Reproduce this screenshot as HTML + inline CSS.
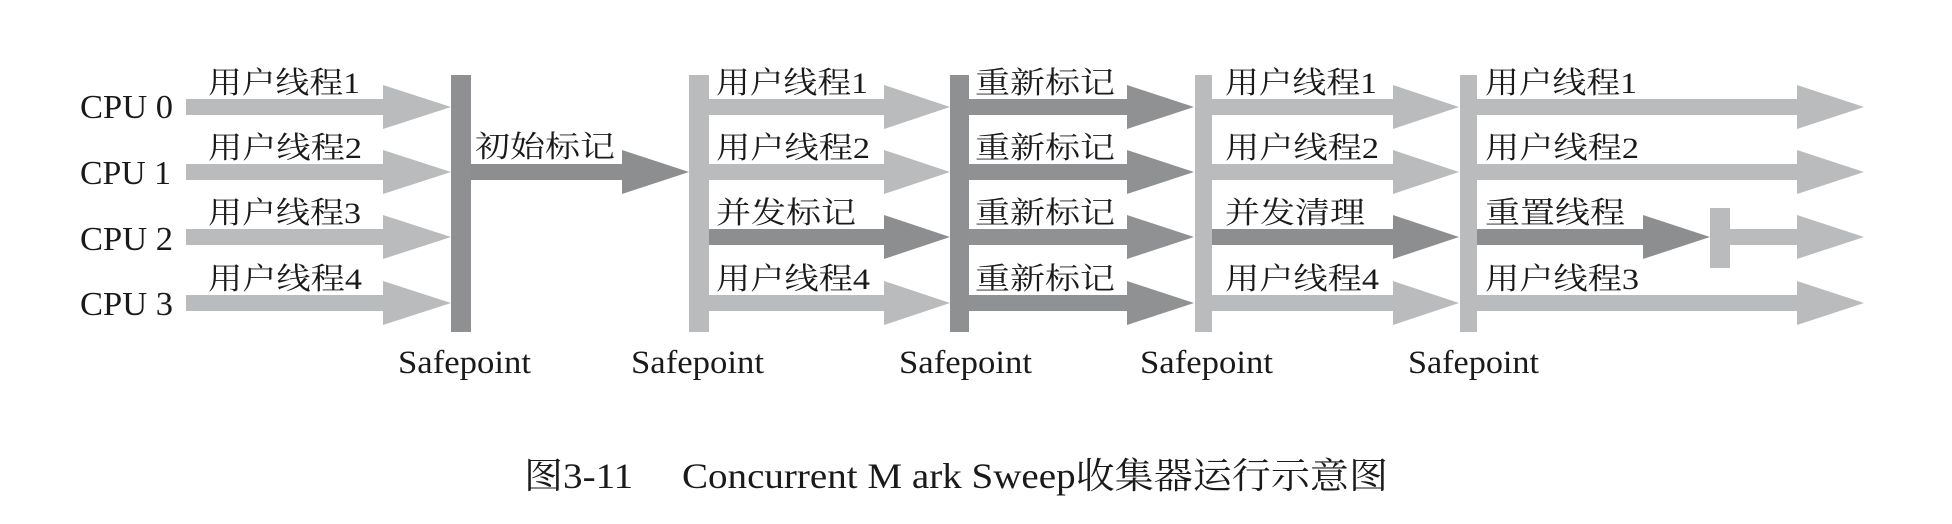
<!DOCTYPE html>
<html><head><meta charset="utf-8"><style>
html,body{margin:0;padding:0;background:#fff;}
svg{display:block;}
.t{font-family:"Liberation Serif","Noto Serif CJK SC",serif;fill:#1a1a1a;}
</style></head><body>
<svg width="1952" height="524" viewBox="0 0 1952 524" xmlns="http://www.w3.org/2000/svg">
<defs></defs>
<g id="arrows"></g>
<!-- Section 1 light arrows -->
<g fill="#b9bbbc">
<polygon points="186,99 383,99 383,85 451,107 383,129 383,115 186,115"/>
<polygon points="186,164 383,164 383,150 451,172 383,194 383,180 186,180"/>
<polygon points="186,229 383,229 383,215 451,237 383,259 383,245 186,245"/>
<polygon points="186,295 383,295 383,281 451,303 383,325 383,311 186,311"/>
</g>
<!-- 初始标记 dark -->
<polygon fill="#8c8e8f" points="471,164 622,164 622,150 689,172 622,194 622,180 471,180"/>
<!-- Section 2 -->
<g fill="#b9bbbc">
<polygon points="709,99 884,99 884,85 950,107 884,129 884,115 709,115"/>
<polygon points="709,164 884,164 884,150 950,172 884,194 884,180 709,180"/>
<polygon points="709,295 884,295 884,281 950,303 884,325 884,311 709,311"/>
</g>
<polygon fill="#8c8e8f" points="709,229 884,229 884,215 950,237 884,259 884,245 709,245"/>
<!-- Section 3 dark -->
<g fill="#8f9192">
<polygon points="969,99 1127,99 1127,85 1194,107 1127,129 1127,115 969,115"/>
<polygon points="969,164 1127,164 1127,150 1194,172 1127,194 1127,180 969,180"/>
<polygon points="969,229 1127,229 1127,215 1194,237 1127,259 1127,245 969,245"/>
<polygon points="969,295 1127,295 1127,281 1194,303 1127,325 1127,311 969,311"/>
</g>
<!-- Section 4 -->
<g fill="#b9bbbc">
<polygon points="1212,99 1393,99 1393,85 1459,107 1393,129 1393,115 1212,115"/>
<polygon points="1212,164 1393,164 1393,150 1459,172 1393,194 1393,180 1212,180"/>
<polygon points="1212,295 1393,295 1393,281 1459,303 1393,325 1393,311 1212,311"/>
</g>
<polygon fill="#8c8e8f" points="1212,229 1393,229 1393,215 1459,237 1393,259 1393,245 1212,245"/>
<!-- Section 5 -->
<g fill="#b9bbbc">
<polygon points="1477,99 1797,99 1797,85 1864,107 1797,129 1797,115 1477,115"/>
<polygon points="1477,164 1797,164 1797,150 1864,172 1797,194 1797,180 1477,180"/>
<polygon points="1477,295 1797,295 1797,281 1864,303 1797,325 1797,311 1477,311"/>
<polygon points="1730,229 1797,229 1797,215 1864,237 1797,259 1797,245 1730,245"/>
<rect x="1710" y="208" width="20" height="60"/>
</g>
<polygon fill="#8c8e8f" points="1477,229 1643,229 1643,215 1710,237 1643,259 1643,245 1477,245"/>
<!-- Bars -->
<rect x="451" y="75" width="20" height="257" fill="#8e9091"/>
<rect x="689" y="75" width="20" height="257" fill="#b9bbbc"/>
<rect x="950" y="75" width="19" height="257" fill="#8e9091"/>
<rect x="1195" y="75" width="17" height="257" fill="#b9bbbc"/>
<rect x="1460" y="75" width="17" height="257" fill="#b9bbbc"/>
<!-- CPU labels -->
<g class="t" font-size="34">
<text x="80" y="118" textLength="93" lengthAdjust="spacingAndGlyphs">CPU 0</text>
<text x="80" y="184" textLength="91" lengthAdjust="spacingAndGlyphs">CPU 1</text>
<text x="80" y="250" textLength="93" lengthAdjust="spacingAndGlyphs">CPU 2</text>
<text x="80" y="315" textLength="93" lengthAdjust="spacingAndGlyphs">CPU 3</text>
</g>
<!-- Thread labels -->
<g class="t" font-size="30">
<text x="208" y="93" textLength="152" lengthAdjust="spacingAndGlyphs">用户线程1</text>
<text x="208" y="158" textLength="154" lengthAdjust="spacingAndGlyphs">用户线程2</text>
<text x="208" y="223" textLength="153" lengthAdjust="spacingAndGlyphs">用户线程3</text>
<text x="208" y="289" textLength="154" lengthAdjust="spacingAndGlyphs">用户线程4</text>
<text x="475" y="157" textLength="140" lengthAdjust="spacingAndGlyphs">初始标记</text>

<text x="716" y="93" textLength="152" lengthAdjust="spacingAndGlyphs">用户线程1</text>
<text x="716" y="158" textLength="154" lengthAdjust="spacingAndGlyphs">用户线程2</text>
<text x="716" y="223" textLength="140" lengthAdjust="spacingAndGlyphs">并发标记</text>
<text x="716" y="289" textLength="154" lengthAdjust="spacingAndGlyphs">用户线程4</text>

<text x="975" y="93" textLength="140" lengthAdjust="spacingAndGlyphs">重新标记</text>
<text x="975" y="158" textLength="140" lengthAdjust="spacingAndGlyphs">重新标记</text>
<text x="975" y="223" textLength="140" lengthAdjust="spacingAndGlyphs">重新标记</text>
<text x="975" y="289" textLength="140" lengthAdjust="spacingAndGlyphs">重新标记</text>

<text x="1225" y="93" textLength="152" lengthAdjust="spacingAndGlyphs">用户线程1</text>
<text x="1225" y="158" textLength="154" lengthAdjust="spacingAndGlyphs">用户线程2</text>
<text x="1225" y="223" textLength="140" lengthAdjust="spacingAndGlyphs">并发清理</text>
<text x="1225" y="289" textLength="154" lengthAdjust="spacingAndGlyphs">用户线程4</text>

<text x="1485" y="93" textLength="152" lengthAdjust="spacingAndGlyphs">用户线程1</text>
<text x="1485" y="158" textLength="154" lengthAdjust="spacingAndGlyphs">用户线程2</text>
<text x="1485" y="223" textLength="140" lengthAdjust="spacingAndGlyphs">重置线程</text>
<text x="1485" y="289" textLength="154" lengthAdjust="spacingAndGlyphs">用户线程3</text>
</g>
<!-- Safepoint labels -->
<g class="t" font-size="33">
<text x="398" y="373" textLength="133" lengthAdjust="spacingAndGlyphs">Safepoint</text>
<text x="631" y="373" textLength="133" lengthAdjust="spacingAndGlyphs">Safepoint</text>
<text x="899" y="373" textLength="133" lengthAdjust="spacingAndGlyphs">Safepoint</text>
<text x="1140" y="373" textLength="133" lengthAdjust="spacingAndGlyphs">Safepoint</text>
<text x="1408" y="373" textLength="131" lengthAdjust="spacingAndGlyphs">Safepoint</text>
</g>
<!-- Caption -->
<text class="t" x="524" y="488" font-size="36" fill="#000" textLength="864" lengthAdjust="spacingAndGlyphs">图3-11　 Concurrent M ark Sweep收集器运行示意图</text>
</svg>
</body></html>
